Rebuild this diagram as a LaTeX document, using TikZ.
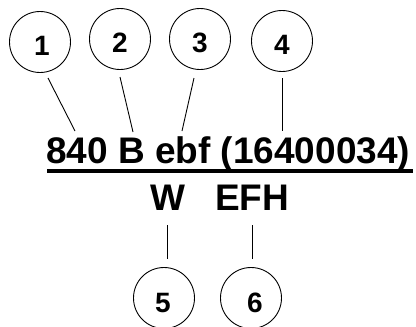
\documentclass[tikz,border=0pt]{standalone}
\usepackage{fontspec}
\setmainfont{Liberation Sans}
\begin{document}
\begin{tikzpicture}[x=1pt,y=-1pt,
  ring/.style={draw=black,line width=0.9pt,circle,minimum size=61pt,inner sep=0pt},
  num/.style={font=\bfseries\fontsize{28}{28}\selectfont,inner sep=0pt},
  big/.style={font=\bfseries\fontsize{37}{37}\selectfont,inner sep=0pt,anchor=base west},
  conn/.style={draw=black,line width=0.9pt}]
\useasboundingbox (0,0) rectangle (416,327);
% circles
\node[ring] (c1) at (40,42) {};
\node[ring] (c2) at (120,39) {};
\node[ring] (c3) at (200,39) {};
\node[ring] (c4) at (282,41) {};
\node[ring] (c5) at (164,298) {};
\node[ring] (c6) at (251,298) {};
\node[num] (n1) at (42,46) {1};
\node[num] (n2) at (120,43) {2};
\node[num] (n3) at (200,43) {3};
\node[num] (n4) at (282,45) {4};
\node[num] (n5) at (163,303) {5};
\node[num] (n6) at (255,303) {6};
% texts
\node[big] (main) at (46,163) {840 B ebf (16400034)};
\node[big] (w) at (150,210) {W};
\node[big] (efh) at (215,210) {EFH};
\draw[line width=4pt] (main.base west) ++(1,8) coordinate (ul1) -- (413,171) coordinate (ul2);
% connector ends
\coordinate (a1) at (48,78);  \coordinate (b1) at (75,131);
\coordinate (a2) at (120,77); \coordinate (b2) at (133,132);
\coordinate (a3) at (194,78); \coordinate (b3) at (182,131);
\coordinate (a4) at (282,78); \coordinate (b4) at (282,131);
\coordinate (a5) at (167,225); \coordinate (b5) at (167,259);
\coordinate (a6) at (252,225); \coordinate (b6) at (252,259);
\draw[conn] (a1) -- (b1);
\draw[conn] (a2) -- (b2);
\draw[conn] (a3) -- (b3);
\draw[conn] (a4) -- (b4);
\draw[conn] (a5) -- (b5);
\draw[conn] (a6) -- (b6);
\end{tikzpicture}
\end{document}
